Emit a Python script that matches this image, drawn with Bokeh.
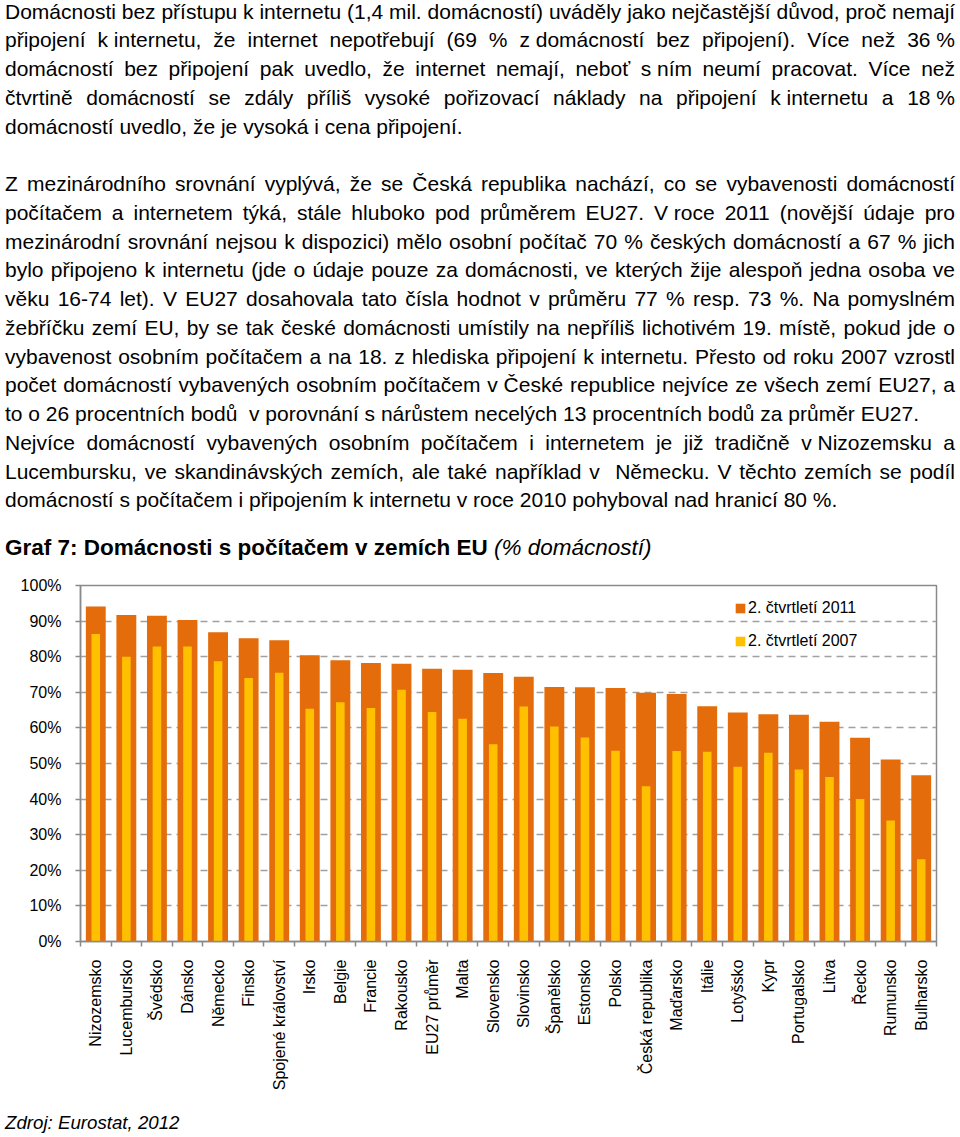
import html
import math
import re
from bokeh.plotting import figure
from bokeh.models import (Div, Range1d, FixedTicker, PrintfTickFormatter, Legend,
                          LegendItem, ColumnDataSource)
from bokeh.layouts import column
from bokeh.embed import file_html
from bokeh.resources import INLINE

# ---------------- data ----------------
countries = ["Nizozemsko", "Lucembursko", "Švédsko", "Dánsko", "Německo", "Finsko",
             "Spojené království", "Irsko", "Belgie", "Francie", "Rakousko", "EU27 průměr",
             "Malta", "Slovensko", "Slovinsko", "Španělsko", "Estonsko", "Polsko",
             "Česká republika", "Maďarsko", "Itálie", "Lotyšsko", "Kypr", "Portugalsko",
             "Litva", "Řecko", "Rumunsko", "Bulharsko"]
q2_2011 = [94.1, 91.7, 91.5, 90.3, 86.9, 85.2, 84.6, 80.4, 79.0, 78.2, 78.0, 76.6,
           76.3, 75.4, 74.4, 71.5, 71.4, 71.2, 69.9, 69.5, 66.1, 64.3, 63.8, 63.7,
           61.7, 57.2, 51.1, 46.7]
q2_2007 = [86.4, 80.0, 82.9, 82.9, 78.7, 74.0, 75.5, 65.4, 67.2, 65.6, 70.7, 64.5,
           62.6, 55.4, 66.0, 60.4, 57.3, 53.6, 43.6, 53.5, 53.3, 49.1, 53.0, 48.3,
           46.2, 40.0, 34.0, 23.1]
series_labels = ["2. čtvrtletí 2011", "2. čtvrtletí 2007"]
y_ticks = [0, 10, 20, 30, 40, 50, 60, 70, 80, 90, 100]

title_bold = "Graf 7: Domácnosti s počítačem v zemích EU"
title_italic = "(% domácností)"
source_text = "Zdroj: Eurostat, 2012"

NB = "\u00a0"
para1_lines = [
    "Domácnosti bez přístupu k internetu (1,4 mil. domácností) uváděly jako nejčastější důvod, proč nemají",
    f"připojení k{NB}internetu, že internet nepotřebují (69 % z{NB}domácností bez připojení). Více než 36{NB}%",
    f"domácností bez připojení pak uvedlo, že internet nemají, neboť s{NB}ním neumí pracovat. Více než",
    f"čtvrtině domácností se zdály příliš vysoké pořizovací náklady na připojení k{NB}internetu a 18{NB}%",
    "domácností uvedlo, že je vysoká i cena připojení.",
]
para2_lines = [
    "Z mezinárodního srovnání vyplývá, že se Česká republika nachází, co se vybavenosti domácností",
    f"počítačem a internetem týká, stále hluboko pod průměrem EU27. V{NB}roce 2011 (novější údaje pro",
    "mezinárodní srovnání nejsou k dispozici) mělo osobní počítač 70 % českých domácností a 67 % jich",
    "bylo připojeno k internetu (jde o údaje pouze za domácnosti, ve kterých žije alespoň jedna osoba ve",
    "věku 16-74 let). V EU27 dosahovala tato čísla hodnot v průměru 77 % resp. 73 %. Na pomyslném",
    "žebříčku zemí EU, by se tak české domácnosti umístily na nepříliš lichotivém 19. místě, pokud jde o",
    "vybavenost osobním počítačem a na 18. z hlediska připojení k internetu. Přesto od roku 2007 vzrostl",
    f"počet domácností vybavených osobním počítačem v{NB}České republice nejvíce ze všech zemí EU27, a",
    f"to o 26 procentních bodů{NB} v porovnání s nárůstem necelých 13 procentních bodů za průměr EU27.",
    f"Nejvíce domácností vybavených osobním počítačem i internetem je již tradičně v{NB}Nizozemsku a",
    f"Lucembursku, ve skandinávských zemích, ale také například v{NB} Německu. V těchto zemích se podíl",
    f"domácností s{NB}počítačem i připojením k{NB}internetu v{NB}roce 2010 pohyboval nad hranicí 80 %.",
]
para2_left = {8, 11}

# ---------------- text block ----------------
FONT = "'Liberation Sans', Arial, sans-serif"
LH = 28.75


def line_html(text, top, justify):
    t = html.escape(text)
    t = re.sub(r"([^ \u00a0]+\u00a0[^ \u00a0]+)",
               lambda m: f'<span style="display:inline-block">{m.group(1)}</span>', t)
    align = "justify" if justify else "left"
    return (f'<div style="position:absolute;left:5px;top:{top:.2f}px;width:950px;'
            f'height:{LH}px;line-height:{LH}px;white-space:nowrap;text-align:justify;'
            f'text-align-last:{align};">{t}</div>')


rows = []
for i, ln in enumerate(para1_lines):
    rows.append(line_html(ln, -2.4 + LH * i, i < len(para1_lines) - 1))
for j, ln in enumerate(para2_lines):
    rows.append(line_html(ln, -2.4 + LH * (j + 6), j not in para2_left))
rows.append(
    f'<div style="position:absolute;left:5px;top:534px;line-height:28px;font-size:22.5px;'
    f'white-space:nowrap;"><b>{html.escape(title_bold)}</b> '
    f'<i>{html.escape(title_italic)}</i></div>')

text_html = (f'<div style="position:relative;width:958px;height:570px;font-family:{FONT};'
             f'font-size:21px;color:#000;">' + "".join(rows) + "</div>")
div = Div(text=text_html, width=958, height=570, margin=0)

src_html = (f'<div style="position:relative;width:958px;height:33px;font-family:{FONT};'
            f'font-size:18.7px;color:#000;"><div style="position:absolute;left:5px;top:9px;'
            f'line-height:28px;white-space:nowrap;font-style:italic;">'
            f'{html.escape(source_text)}</div></div>')
src_div = Div(text=src_html, width=958, height=33, margin=0)

# ---------------- chart ----------------
n = len(countries)
centers = [i + 0.5 for i in range(n)]
bounds = [float(i) for i in range(n + 1)]

src = ColumnDataSource(dict(x=centers, y11=q2_2011, y07=q2_2007, name=countries))

p = figure(width=952, height=530, x_range=Range1d(0, n), y_range=Range1d(0, 100),
           output_backend="svg", toolbar_location=None,
           min_border_left=80, min_border_right=16, min_border_top=15, min_border_bottom=159,
           margin=0)
p.background_fill_color = "white"
p.border_fill_color = "white"
p.outline_line_color = "#8a8a8a"
p.outline_line_width = 1.5

r1 = p.vbar(x="x", top="y11", bottom=0, width=0.65, fill_color="#E46C0A",
            line_color=None, source=src)
r2 = p.vbar(x="x", top="y07", bottom=0, width=0.28, fill_color="#FFC000",
            line_color=None, source=src)

xa = p.xaxis[0]
xa.ticker = FixedTicker(ticks=centers, minor_ticks=bounds)
xa.major_label_overrides = {c: name for c, name in zip(centers, countries)}
xa.major_label_orientation = math.pi / 2
xa.major_tick_out = 0
xa.major_tick_in = 0
xa.minor_tick_out = 5
xa.minor_tick_in = 0
xa.minor_tick_line_color = "#8a8a8a"
xa.minor_tick_line_width = 1.5
xa.axis_line_color = "#8a8a8a"
xa.axis_line_width = 1.5
xa.major_label_standoff = 13
xa.major_label_text_font = "Liberation Sans"
xa.major_label_text_font_size = "16px"
xa.major_label_text_color = "#000000"

ya = p.yaxis[0]
ya.ticker = FixedTicker(ticks=y_ticks)
ya.formatter = PrintfTickFormatter(format="%d%%")
ya.major_tick_out = 5
ya.major_tick_in = 0
ya.minor_tick_line_color = None
ya.major_tick_line_color = "#8a8a8a"
ya.major_tick_line_width = 1.5
ya.axis_line_color = "#8a8a8a"
ya.axis_line_width = 1.5
ya.major_label_standoff = 14
ya.major_label_text_font = "Liberation Sans"
ya.major_label_text_font_size = "16px"
ya.major_label_text_color = "#000000"

p.xgrid.visible = False
p.ygrid.grid_line_color = "#a0a0a0"
p.ygrid.grid_line_width = 1.5
p.ygrid.grid_line_dash = "7 5"

legend = Legend(items=[LegendItem(label=series_labels[0], renderers=[r1]),
                       LegendItem(label=series_labels[1], renderers=[r2])],
                location=(654, 290), orientation="vertical",
                glyph_width=12, glyph_height=12, label_standoff=2, spacing=13,
                padding=0, margin=0, border_line_color=None, background_fill_alpha=0,
                label_text_font="Liberation Sans", label_text_font_size="16px",
                label_text_color="#000000", label_height=20)
p.add_layout(legend)

layout = column(div, p, src_div, spacing=0, margin=0)
open("out.html", "w").write(file_html(layout, INLINE))
